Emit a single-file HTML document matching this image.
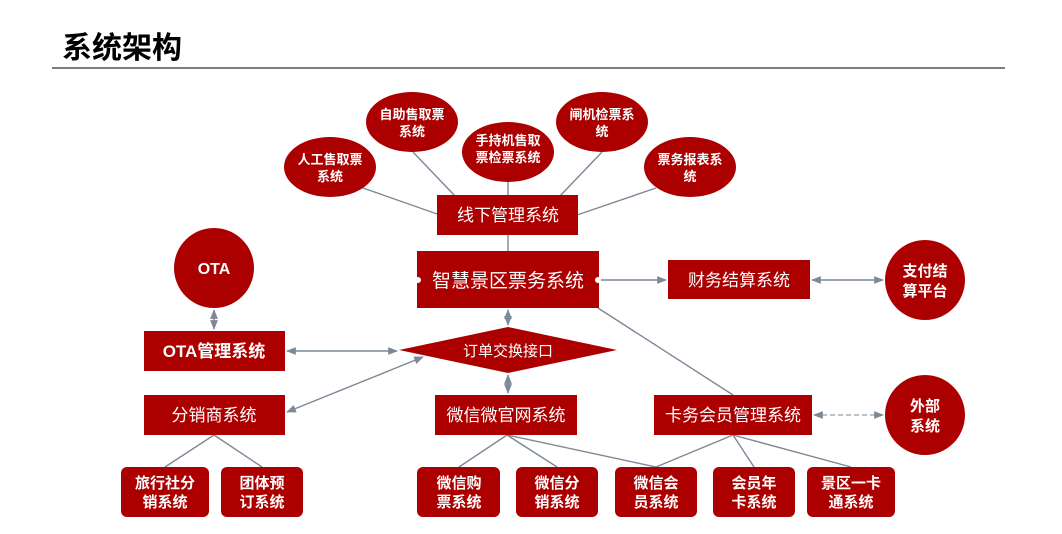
<!DOCTYPE html>
<html><head><meta charset="utf-8"><style>
html,body{margin:0;padding:0;background:#fff;}
body{width:1062px;height:534px;position:relative;overflow:hidden;font-family:"Liberation Sans","Noto Sans CJK SC",sans-serif;}
.t{position:absolute;left:62px;top:23px;font-size:30px;font-weight:bold;color:#000;font-family:"Liberation Sans","Noto Sans CJK SC",sans-serif;}
.hr{position:absolute;left:52px;top:67px;width:953px;height:2px;background:#807d7a;}
</style></head><body>
<div class="t">系统架构</div>
<div class="hr"></div>
<svg width="1062" height="534" style="position:absolute;left:0;top:0" font-family="Liberation Sans, Noto Sans CJK SC, sans-serif">
<defs>
<marker id="a" viewBox="0 0 10 10" refX="9" refY="5" markerWidth="7" markerHeight="7" orient="auto-start-reverse"><path d="M0,1 L10,5 L0,9 z" fill="#7b8896"/></marker>
</defs>
<g stroke="#7b8896" stroke-width="1.4" fill="none">
<line x1="363" y1="188" x2="440" y2="215"/>
<line x1="413" y1="152" x2="455" y2="196"/>
<line x1="508" y1="177" x2="508" y2="196"/>
<line x1="602" y1="152" x2="560" y2="196"/>
<line x1="656" y1="188" x2="577" y2="215"/>
<line x1="508" y1="235" x2="508" y2="251"/>
<line x1="601" y1="280" x2="666" y2="280" marker-end="url(#a)"/>
<line x1="812" y1="280" x2="883" y2="280" marker-start="url(#a)" marker-end="url(#a)"/>
<line x1="214" y1="310" x2="214" y2="329" marker-start="url(#a)" marker-end="url(#a)"/>
<line x1="287" y1="351" x2="397" y2="351" marker-start="url(#a)" marker-end="url(#a)"/>
<line x1="287" y1="412" x2="423" y2="357" marker-start="url(#a)" marker-end="url(#a)"/>
<line x1="508" y1="310" x2="508" y2="325" marker-start="url(#a)" marker-end="url(#a)"/>
<line x1="508" y1="375" x2="508" y2="393" marker-start="url(#a)" marker-end="url(#a)"/>
<line x1="598" y1="308" x2="733" y2="395"/>
<line x1="814" y1="415" x2="883" y2="415" stroke-dasharray="5,3" stroke="#a9b1b9" marker-start="url(#a)" marker-end="url(#a)"/>
<line x1="214" y1="435" x2="165" y2="467"/>
<line x1="214" y1="435" x2="262" y2="467"/>
<line x1="507" y1="435" x2="459" y2="467"/>
<line x1="507" y1="435" x2="557" y2="467"/>
<line x1="507" y1="435" x2="656" y2="467"/>
<line x1="733" y1="435" x2="656" y2="467"/>
<line x1="733" y1="435" x2="754" y2="467"/>
<line x1="733" y1="435" x2="851" y2="467"/>
</g>
<g fill="#ac0000">
<ellipse cx="330" cy="167" rx="46" ry="30"/>
<ellipse cx="412" cy="122" rx="46" ry="30"/>
<ellipse cx="508" cy="152" rx="46" ry="30"/>
<ellipse cx="602" cy="122" rx="46" ry="30"/>
<ellipse cx="690" cy="167" rx="46" ry="30"/>
<rect x="437" y="195" width="141" height="40"/>
<rect x="417" y="251" width="182" height="57"/>
<rect x="668" y="260" width="142" height="39"/>
<circle cx="925" cy="280" r="40"/>
<circle cx="214" cy="268" r="40"/>
<rect x="144" y="331" width="141" height="40"/>
<polygon points="399,350 508,327 617,350 508,373"/>
<rect x="144" y="395" width="141" height="40"/>
<rect x="435" y="395" width="142" height="40"/>
<rect x="654" y="395" width="158" height="40"/>
<circle cx="925" cy="415" r="40"/>
<rect x="121" y="467" width="88" height="50" rx="6"/>
<rect x="221" y="467" width="82" height="50" rx="6"/>
<rect x="417" y="467" width="83" height="50" rx="6"/>
<rect x="516" y="467" width="82" height="50" rx="6"/>
<rect x="615" y="467" width="82" height="50" rx="6"/>
<rect x="713" y="467" width="82" height="50" rx="6"/>
<rect x="807" y="467" width="88" height="50" rx="6"/>
</g>
<circle cx="418" cy="280" r="3" fill="#fff"/>
<circle cx="598" cy="280" r="3" fill="#fff"/>
<g fill="#fff" text-anchor="middle" font-weight="bold" font-size="13">
<text x="330" y="164">人工售取票</text><text x="330" y="181">系统</text>
<text x="412" y="119">自助售取票</text><text x="412" y="136">系统</text>
<text x="508" y="145">手持机售取</text><text x="508" y="162">票检票系统</text>
<text x="602" y="119">闸机检票系</text><text x="602" y="136">统</text>
<text x="690" y="164">票务报表系</text><text x="690" y="181">统</text>
</g>
<g fill="#fff" text-anchor="middle" font-size="17">
<text x="508" y="221">线下管理系统</text>
<text x="508" y="287" font-size="19">智慧景区票务系统</text>
<text x="739" y="286">财务结算系统</text>
<text x="214" y="357" font-weight="bold">OTA管理系统</text>
<text x="508" y="356" font-size="15">订单交换接口</text>
<text x="214" y="421">分销商系统</text>
<text x="506" y="421">微信微官网系统</text>
<text x="733" y="421">卡务会员管理系统</text>
</g>
<g fill="#fff" text-anchor="middle" font-size="15" font-weight="bold">
<text x="925" y="276">支付结</text><text x="925" y="296">算平台</text>
<text x="214" y="274" font-size="16">OTA</text>
<text x="925" y="411">外部</text><text x="925" y="431">系统</text>
<text x="165" y="488">旅行社分</text><text x="165" y="507">销系统</text>
<text x="262" y="488">团体预</text><text x="262" y="507">订系统</text>
<text x="459" y="488">微信购</text><text x="459" y="507">票系统</text>
<text x="557" y="488">微信分</text><text x="557" y="507">销系统</text>
<text x="656" y="488">微信会</text><text x="656" y="507">员系统</text>
<text x="754" y="488">会员年</text><text x="754" y="507">卡系统</text>
<text x="851" y="488">景区一卡</text><text x="851" y="507">通系统</text>
</g>
</svg>
</body></html>
